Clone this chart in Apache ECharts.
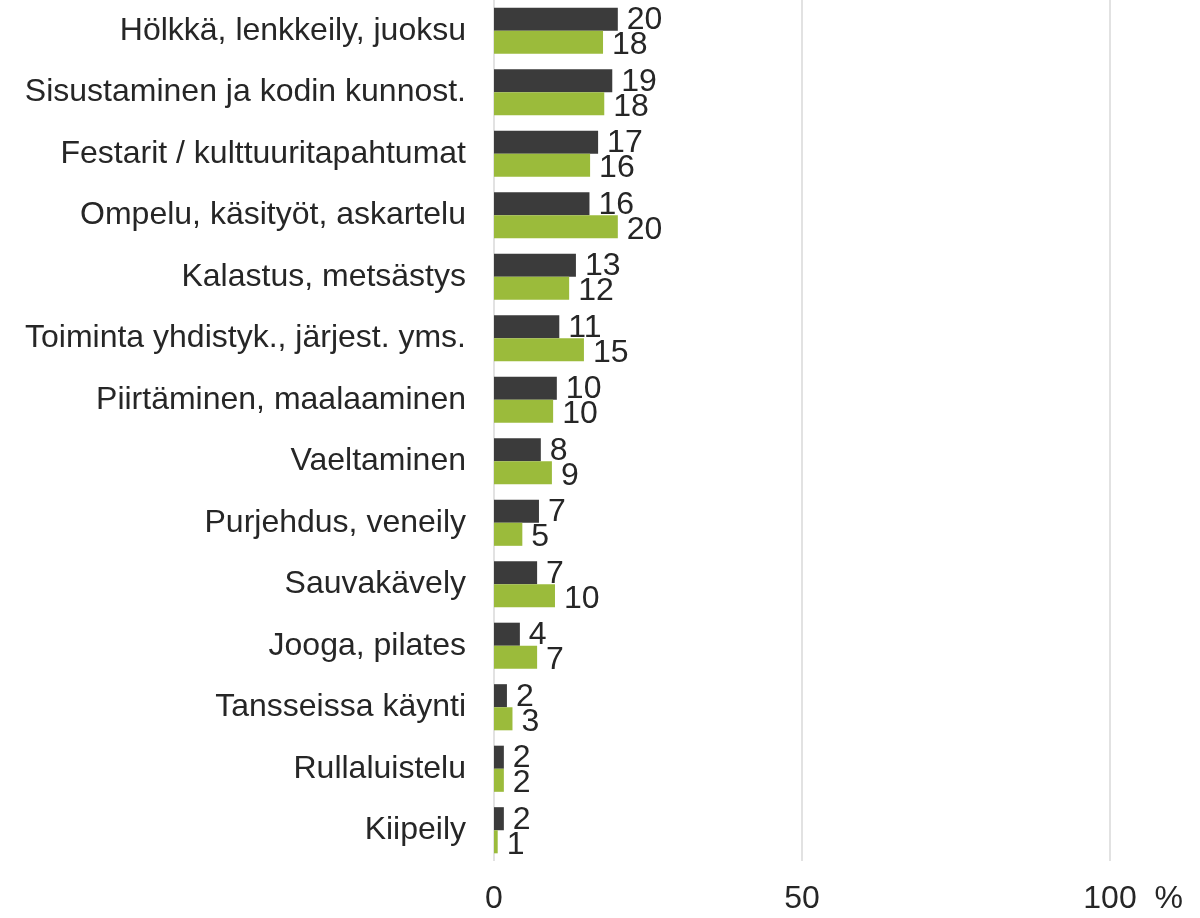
<!DOCTYPE html>
<html>
<head>
<meta charset="utf-8">
<script src="https://cdn.jsdelivr.net/npm/echarts@6/dist/echarts.min.js"></script>
<style>
  html, body { margin: 0; padding: 0; background: #fff; }
  #chart { width: 1200px; height: 918px; }
</style>
</head>
<body>
<div id="chart"></div>
<script>
// Harrastukset - two series, horizontal bars
var categories = [
  'Hölkkä, lenkkeily, juoksu',
  'Sisustaminen ja kodin kunnost.',
  'Festarit / kulttuuritapahtumat',
  'Ompelu, käsityöt, askartelu',
  'Kalastus, metsästys',
  'Toiminta yhdistyk., järjest. yms.',
  'Piirtäminen, maalaaminen',
  'Vaeltaminen',
  'Purjehdus, veneily',
  'Sauvakävely',
  'Jooga, pilates',
  'Tansseissa käynti',
  'Rullaluistelu',
  'Kiipeily'
];
var darkValues = [20.1, 19.2, 16.9, 15.5, 13.3, 10.6, 10.2, 7.6, 7.3, 7.0, 4.2, 2.1, 1.6, 1.6];
var greenValues = [17.7, 17.9, 15.6, 20.1, 12.2, 14.6, 9.6, 9.4, 4.6, 9.9, 7.0, 3.0, 1.6, 0.6];
var xTicks = [0, 50, 100];

var ink = '#262626';
var dark = '#3b3b3b';
var green = '#9bbb3b';
var rule = '#d9d9d9';
var font = 'Liberation Sans, Arial, sans-serif';

function labelStyle(dy) {
  return {
    show: true,
    position: 'right',
    distance: 9,
    offset: [0, dy],
    color: ink,
    fontSize: 32,
    fontFamily: font,
    formatter: function(p) { return Math.round(p.value); }
  };
}

var chart = echarts.init(document.getElementById('chart'), null, { renderer: 'canvas' });
chart.setOption({
  animation: false,
  grid: { left: 494, right: 90, top: 0, bottom: 57 },
  xAxis: {
    type: 'value',
    min: 0,
    max: 100,
    interval: 50,
    axisLine: { show: false },
    axisTick: { show: false },
    splitLine: { show: true, lineStyle: { color: rule, width: 1.5 } },
    axisLabel: {
      color: ink,
      fontSize: 32,
      fontFamily: font,
      margin: 22,
      formatter: function(v) {
        if (xTicks.indexOf(v) < 0) return '';
        return v === 100 ? '{h|  %}100  %' : String(v);
      },
      rich: { h: { color: 'rgba(0,0,0,0)', fontSize: 32, fontFamily: font } }
    }
  },
  yAxis: {
    type: 'category',
    inverse: true,
    data: categories,
    axisLine: { show: false },
    axisTick: { show: false },
    axisLabel: { color: ink, fontSize: 32, fontFamily: font, margin: 28 }
  },
  series: [
    {
      name: 'sarja 1',
      type: 'bar',
      data: darkValues,
      itemStyle: { color: dark },
      barGap: '0%',
      barCategoryGap: '25%',
      label: labelStyle(1)
    },
    {
      name: 'sarja 2',
      type: 'bar',
      data: greenValues,
      itemStyle: { color: green },
      barGap: '0%',
      barCategoryGap: '25%',
      label: labelStyle(3)
    }
  ]
});
window.addEventListener('resize', function() { chart.resize(); });
</script>
</body>
</html>
